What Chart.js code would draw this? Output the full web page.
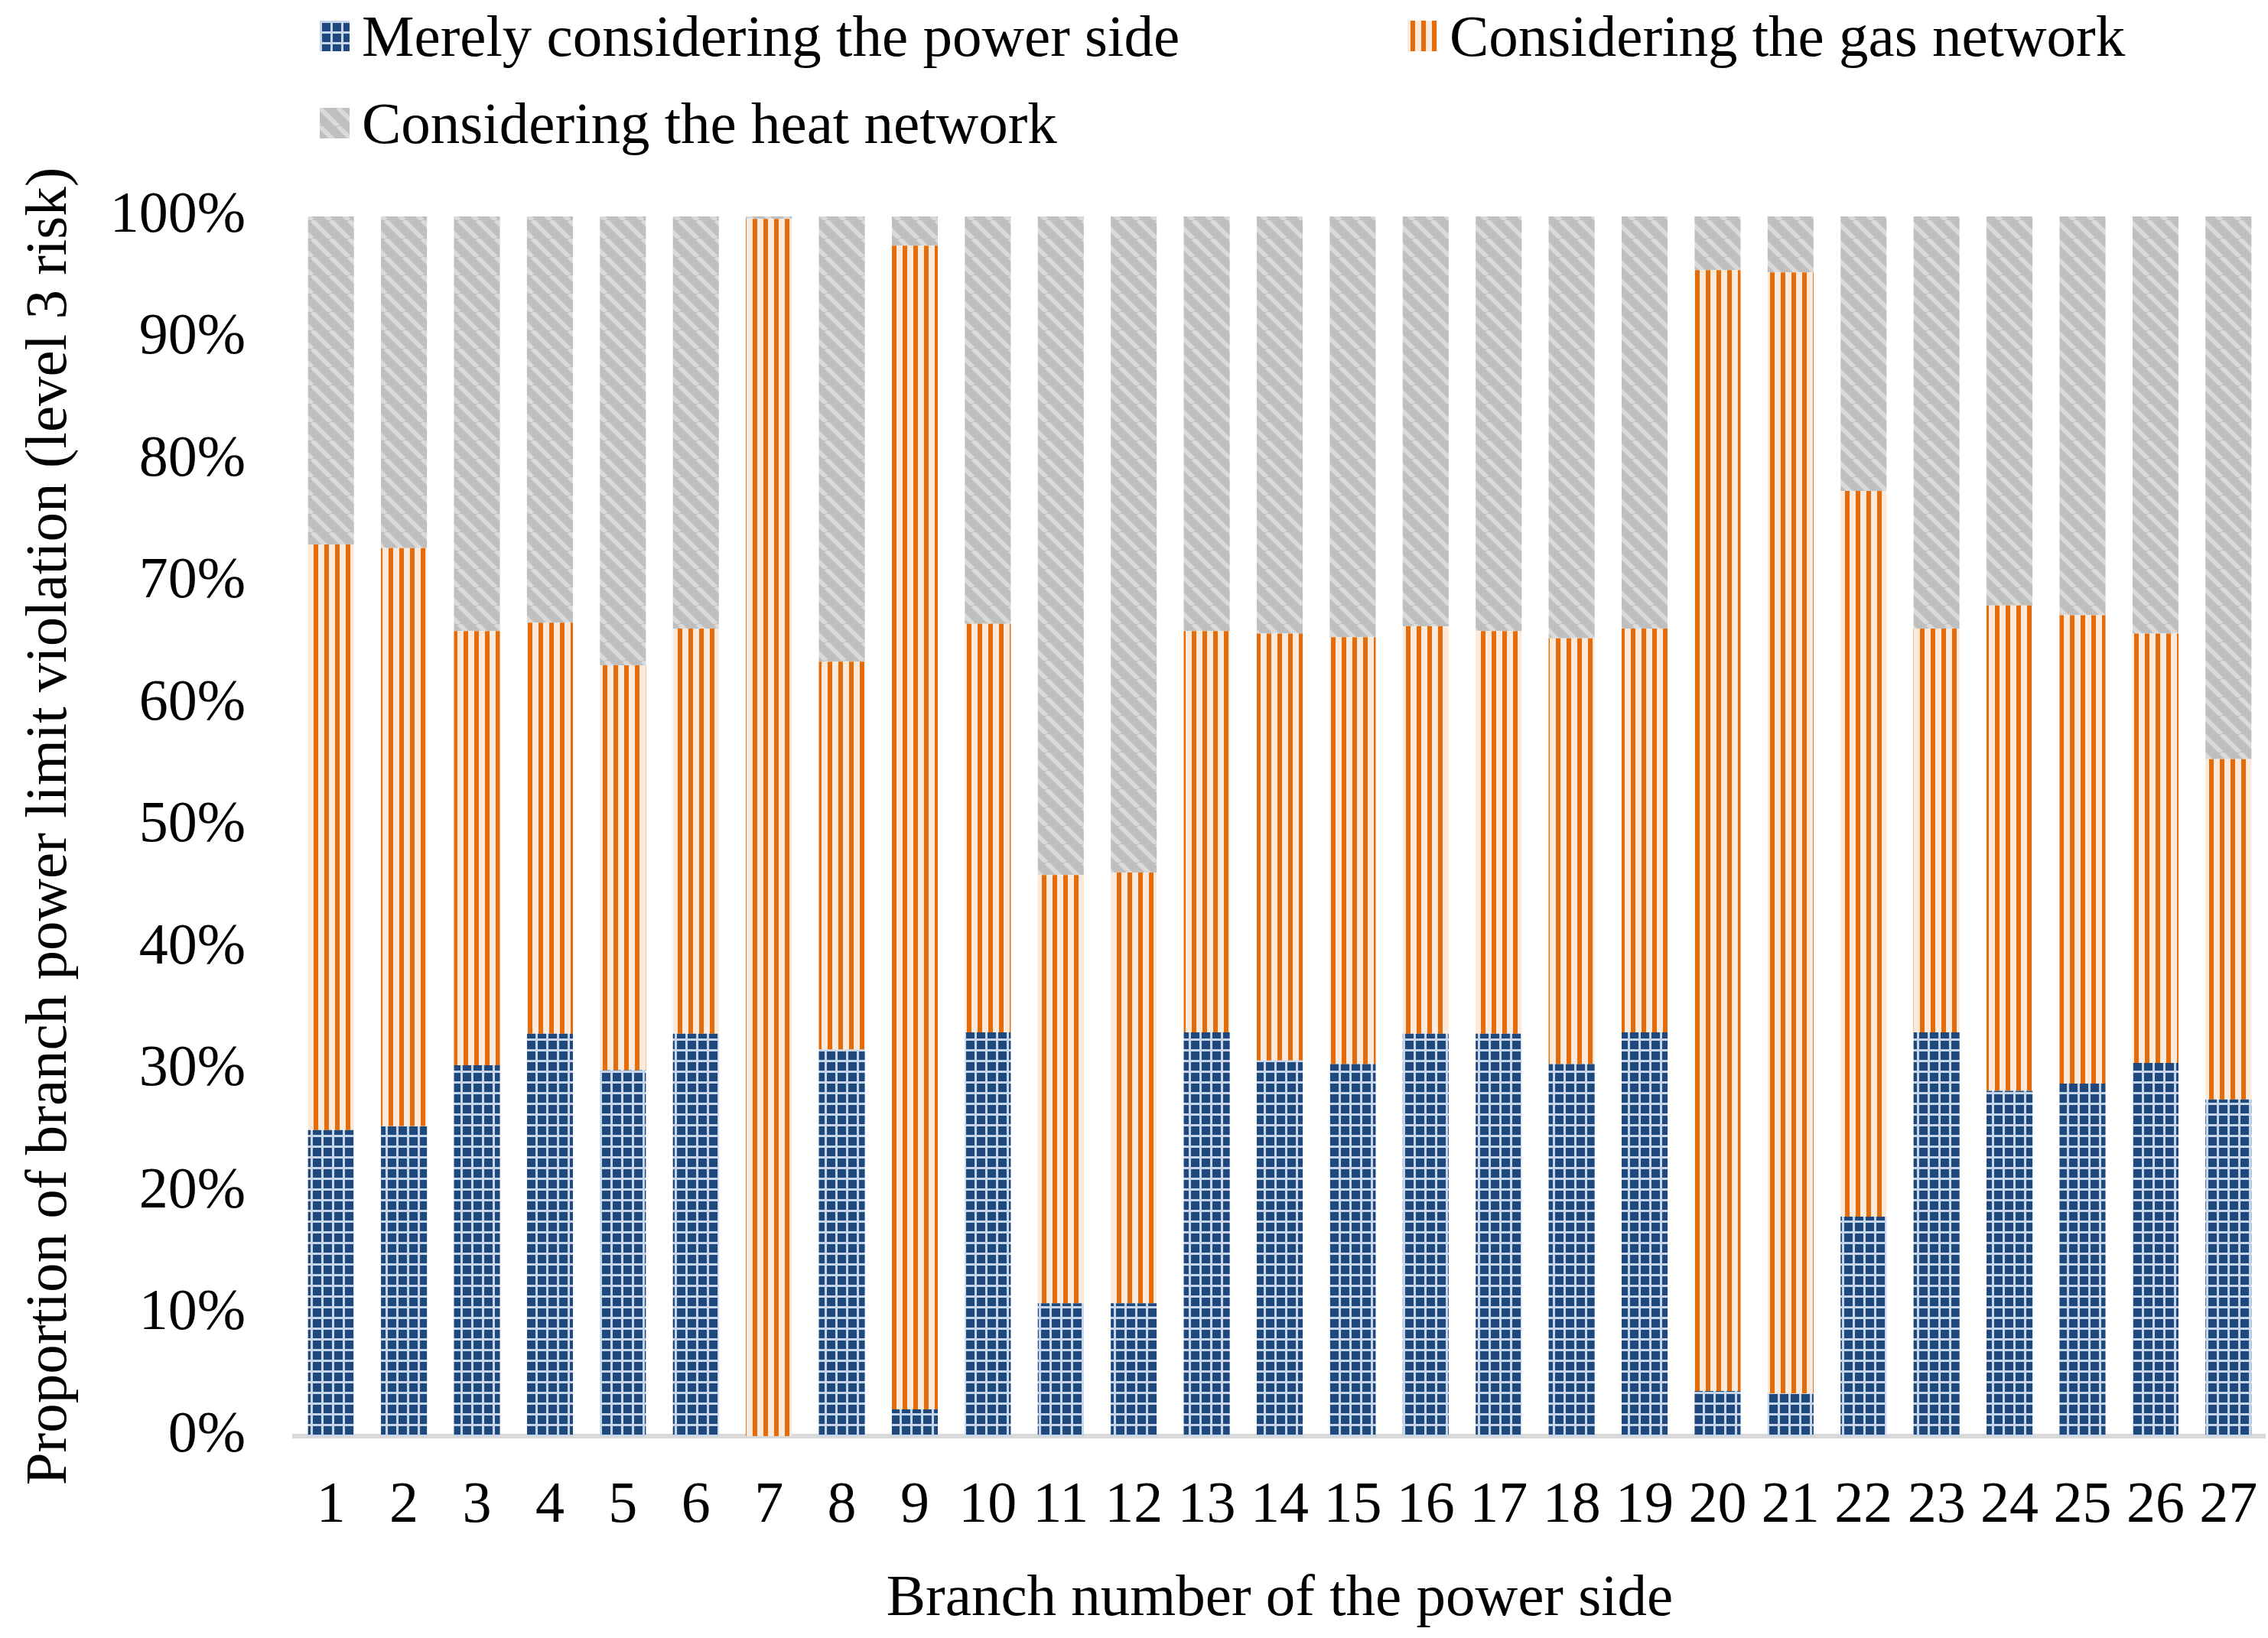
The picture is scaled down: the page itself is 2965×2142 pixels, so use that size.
<!DOCTYPE html>
<html>
<head>
<meta charset="utf-8">
<script src="https://cdn.jsdelivr.net/npm/chart.js@4.4.1/dist/chart.umd.min.js"></script>
<style>
  html, body { margin: 0; padding: 0; background: #fff; }
  #wrap { position: relative; width: 2965px; height: 2142px; }
  #legend { position: absolute; left: 0; top: 0; width: 2965px; height: 220px; font-family: "Liberation Serif", "Times New Roman", serif; font-size: 77px; color: #000; }
  .item { position: absolute; display: flex; align-items: center; white-space: nowrap; line-height: 1; }
  .swatch { width: 39px; height: 40px; margin-right: 16px; }
</style>
</head>
<body>
<div id="wrap">
  <canvas id="riskChart" width="2965" height="2142"></canvas>
  <div id="legend"></div>
</div>
<script>
const branches = ['1','2','3','4','5','6','7','8','9','10','11','12','13','14','15','16','17','18','19','20','21','22','23','24','25','26','27'];
const seriesNames = ['Merely considering the power side', 'Considering the gas network', 'Considering the heat network'];
const powerSide = [25.1, 25.4, 30.4, 33.0, 30.0, 33.0, 0, 31.7, 2.2, 33.1, 10.9, 10.9, 33.1, 30.8, 30.5, 33.0, 33.0, 30.5, 33.1, 3.7, 3.5, 18.0, 33.1, 28.3, 28.9, 30.6, 27.6];
const gasNetwork = [48.0, 47.4, 35.6, 33.7, 33.2, 33.2, 99.8, 31.8, 95.4, 33.5, 35.1, 35.3, 32.9, 35.0, 35.0, 33.4, 33.0, 34.9, 33.1, 91.9, 91.9, 59.5, 33.1, 39.8, 38.4, 35.2, 27.9];
const heatNetwork = [26.9, 27.2, 34.0, 33.3, 36.8, 33.8, 0.2, 36.5, 2.4, 33.4, 54.0, 53.8, 34.0, 34.2, 34.5, 33.6, 34.0, 34.6, 33.8, 4.4, 4.6, 22.5, 33.8, 31.9, 32.7, 34.2, 44.5];
const yTicks = [0, 10, 20, 30, 40, 50, 60, 70, 80, 90, 100];

// --- pattern tiles (Excel-like fills) ---
function gridTile() {
  const c = document.createElement('canvas');
  c.width = 14; c.height = 14;
  const g = c.getContext('2d');
  g.fillStyle = '#C6D5EA';
  g.fillRect(0, 0, 14, 14);
  g.fillStyle = '#1F497D';
  g.fillRect(3, 3, 11, 11);
  return c;
}

function stripeTile() {
  const c = document.createElement('canvas');
  c.width = 14; c.height = 14;
  const g = c.getContext('2d');
  g.fillStyle = '#FDE9D9';
  g.fillRect(0, 0, 14, 14);
  g.fillStyle = '#E46C0A';
  g.fillRect(4, 0, 6, 14);
  return c;
}

function diagTile() {
  const s = 24;
  const c = document.createElement('canvas');
  c.width = s; c.height = s;
  const g = c.getContext('2d');
  g.fillStyle = '#BFBFBF';
  g.fillRect(0, 0, s, s);
  g.strokeStyle = '#DADADA';
  g.lineWidth = 6;
  [-s, 0, s].forEach(o => {
    g.beginPath();
    g.moveTo(o, 0);
    g.lineTo(o + s, s);
    g.stroke();
  });
  return c;
}

const ctx = document.getElementById('riskChart').getContext('2d');
const tiles = [gridTile(), stripeTile(), diagTile()];
const fills = tiles.map(t => ctx.createPattern(t, 'repeat'));

const serif = "'Liberation Serif', 'Times New Roman', serif";

// --- HTML legend placed like the original (two columns, second row) ---
const legendSpots = [[418, 47], [1840, 47], [418, 161]];
const htmlLegend = {
  id: 'htmlLegend',
  afterUpdate(chart) {
    const box = document.getElementById('legend');
    box.innerHTML = '';
    chart.data.datasets.forEach((ds, i) => {
      const item = document.createElement('div');
      item.className = 'item';
      item.style.left = legendSpots[i][0] + 'px';
      item.style.top = (legendSpots[i][1] - 40) + 'px';
      item.style.height = '80px';
      const sw = document.createElement('div');
      sw.className = 'swatch';
      sw.style.backgroundImage = `url(${tiles[i].toDataURL()})`;
      const label = document.createElement('span');
      label.innerText = ds.label;
      item.appendChild(sw);
      item.appendChild(label);
      box.appendChild(item);
    });
  }
};

new Chart(ctx, {
  type: 'bar',
  data: {
    labels: branches,
    datasets: [
      { label: seriesNames[0], data: powerSide, backgroundColor: fills[0], borderWidth: 0 },
      { label: seriesNames[1], data: gasNetwork, backgroundColor: fills[1], borderWidth: 0 },
      { label: seriesNames[2], data: heatNetwork, backgroundColor: fills[2], borderWidth: 0 }
    ]
  },
  options: {
    responsive: false,
    animation: false,
    devicePixelRatio: 1,
    categoryPercentage: 1,
    barPercentage: 0.63,
    layout: { padding: { top: 283, right: 4, left: 0, bottom: 0 } },
    plugins: {
      legend: { display: false },
      tooltip: { enabled: false }
    },
    scales: {
      x: {
        stacked: true,
        afterFit: axis => { axis.height = 264; axis.paddingLeft = 0; axis.paddingRight = 0; },
        grid: { display: false, drawTicks: false, tickLength: 0 },
        border: { display: true, color: '#D9D9D9', width: 6 },
        ticks: { color: '#000', font: { family: serif, size: 76 }, padding: 46, maxRotation: 0, autoSkip: false },
        title: { display: true, text: 'Branch number of the power side', color: '#000', font: { family: serif, size: 77 }, padding: { top: 30, bottom: 4 } }
      },
      y: {
        stacked: true,
        min: 0,
        max: 100,
        afterFit: axis => { axis.width = 385; },
        afterBuildTicks: axis => { axis.ticks = yTicks.map(v => ({ value: v })); },
        grid: { display: false, drawTicks: false, tickLength: 0 },
        border: { display: false },
        ticks: { color: '#000', font: { family: serif, size: 76 }, padding: 64, callback: v => v + '%' },
        title: { display: true, text: 'Proportion of branch power limit violation (level 3 risk)', color: '#000', font: { family: serif, size: 77 }, padding: { top: 20, bottom: 20 } }
      }
    }
  },
  plugins: [htmlLegend]
});
</script>
</body>
</html>
